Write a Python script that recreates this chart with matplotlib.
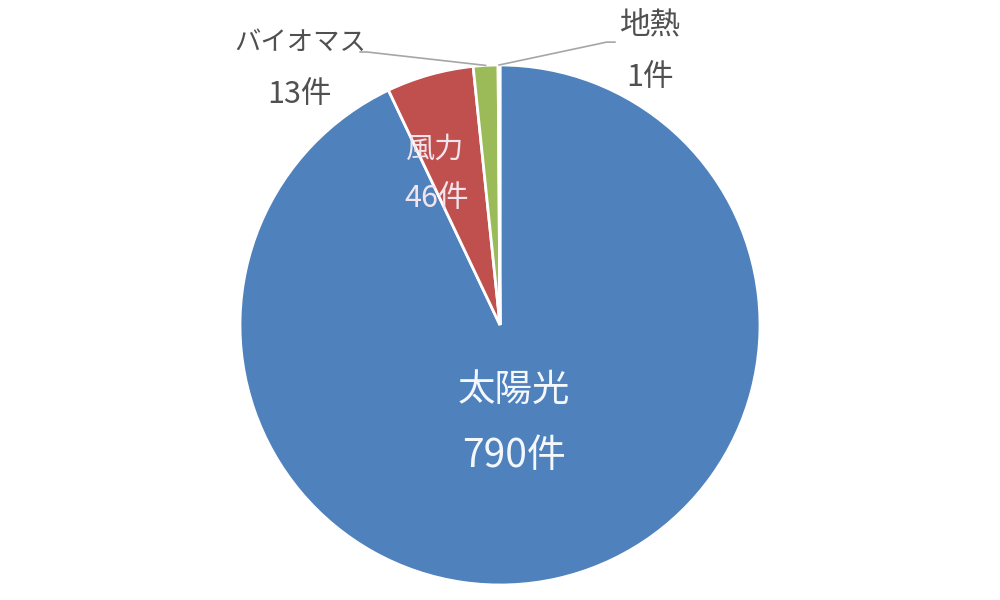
import numpy as np
import matplotlib
matplotlib.use("Agg")
import matplotlib.pyplot as plt

plt.rcParams["font.family"] = ["Noto Sans CJK JP", "DejaVu Sans"]

# データ
labels = ["太陽光", "風力", "バイオマス", "地熱"]
counts = [790, 46, 13, 1]
colors = ["#4F81BD", "#C0504D", "#9BBB59", "#8064A2"]

fig = plt.figure(figsize=(10, 6), dpi=100)
ax = fig.add_axes([0.24, 15 / 600, 0.52, 520 / 600])

wedges, _ = ax.pie(counts, colors=colors, startangle=90, counterclock=False,
                   radius=1.0, wedgeprops=dict(edgecolor="white", linewidth=2))
ax.set_xlim(-1, 1)
ax.set_ylim(-1, 1)
ax.set_aspect("equal")
ax.axis("off")


def wedge_mid(w):
    a = np.deg2rad((w.theta1 + w.theta2) / 2)
    return np.cos(a), np.sin(a)


# 内側ラベル
ax.text(0.054, -0.25, labels[0], ha="center", va="center", fontsize=27, color="#F4F8FC")
ax.text(0.054, -0.505, f"{counts[0]}件", ha="center", va="center", fontsize=28, color="#F4F8FC")
ax.text(-0.25, 0.673, labels[1], ha="center", va="center", fontsize=21, color="#F2E4EC")
ax.text(-0.245, 0.488, f"{counts[1]}件", ha="center", va="center", fontsize=22, color="#F2E4EC")

# 外側ラベル（引き出し線付き）
gray = "#505050"
line_c = "#A6A6A6"
ax.text(-0.77, 1.088, labels[2], ha="center", va="center", fontsize=19, color=gray, clip_on=False)
ax.text(-0.77, 0.885, f"{counts[2]}件", ha="center", va="center", fontsize=22, color=gray, clip_on=False)
mx, my = wedge_mid(wedges[2])
ax.plot([-0.538, -0.512, mx], [1.05, 1.05, my], color=line_c, lw=1.2, clip_on=False)

ax.text(0.577, 1.154, labels[3], ha="center", va="center", fontsize=22, color=gray, clip_on=False)
ax.text(0.577, 0.95, f"{counts[3]}件", ha="center", va="center", fontsize=22, color=gray, clip_on=False)
mx, my = wedge_mid(wedges[3])
ax.plot([0.442, 0.41, mx], [1.088, 1.088, my], color=line_c, lw=1.2, clip_on=False)

fig.savefig("out.png", dpi=100)
